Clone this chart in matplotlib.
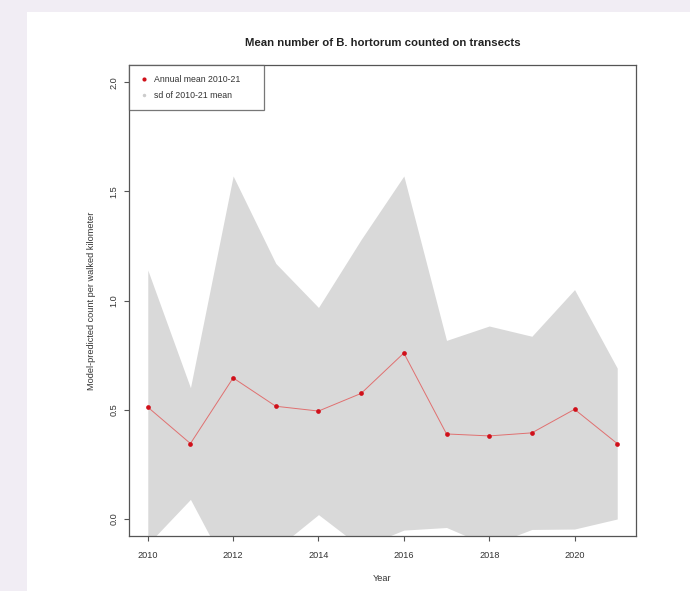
import matplotlib
matplotlib.use("Agg")
import matplotlib.pyplot as plt
import numpy as np
from matplotlib.patches import Rectangle
from matplotlib.lines import Line2D

plt.rcParams['font.family'] = ['Liberation Sans', 'DejaVu Sans']

# annual means and their standard deviation
years = [2010, 2011, 2012, 2013, 2014, 2015, 2016, 2017, 2018, 2019, 2020, 2021]
annual_mean = [0.511, 0.344, 0.645, 0.515, 0.493, 0.574, 0.759, 0.388, 0.379, 0.393, 0.501, 0.344]
mean_sd = [0.629, 0.256, 0.926, 0.655, 0.475, 0.706, 0.812, 0.429, 0.504, 0.443, 0.549, 0.346]

x_ticks = [2010, 2012, 2014, 2016, 2018, 2020]
y_ticks = [0.0, 0.5, 1.0, 1.5, 2.0]

fig = plt.figure(figsize=(6.9, 5.91), dpi=100)
fig.patch.set_facecolor('#f1edf4')
# white page area
fig.add_artist(Rectangle((27 / 690, 0), 1 - 27 / 690, 1 - 12 / 591,
                         transform=fig.transFigure, facecolor='white',
                         edgecolor='none', zorder=0))

ax = fig.add_axes([129 / 690, 1 - 536 / 591, (636 - 129) / 690, (536 - 65) / 591])
ax.set_facecolor('white')

x = np.array(years)
m = np.array(annual_mean)
sd = np.array(mean_sd)

ax.fill_between(x, m - sd, m + sd, color='#d9d9d9', linewidth=0, zorder=1)
ax.plot(x, m, color='#e07070', lw=0.7, zorder=2)
ax.plot(x, m, 'o', color='#d0101a', ms=3.4, markeredgewidth=0, zorder=3)

ax.set_xlim(2009.56, 2021.44)
ax.set_ylim(-0.08, 2.08)
ax.set_xticks(x_ticks)
ax.set_yticks(y_ticks)
ax.set_xticklabels([str(t) for t in x_ticks])
ax.set_yticklabels([f'{t:.1f}' for t in y_ticks], rotation=90, va='center')

for s in ax.spines.values():
    s.set_color('#555555')
    s.set_linewidth(0.9)
ax.tick_params(axis='both', colors='#555555', labelcolor='#333333',
               labelsize=6.6, length=3.6, width=0.8)
ax.tick_params(axis='x', pad=7)
ax.tick_params(axis='y', pad=4)

ax.set_title('Mean number of B. hortorum counted on transects',
             fontsize=8.2, fontweight='bold', color='#222222', pad=13.5)
ax.set_xlabel('Year', fontsize=6.6, color='#333333')
ax.set_ylabel('Model-predicted count per walked kilometer', fontsize=6.6, color='#333333')
ax.xaxis.set_label_coords(0.5, -0.08)
ax.yaxis.set_label_coords(-0.066, 0.5)

handles = [
    Line2D([], [], ls='none', marker='o', color='#d0101a', ms=3, markeredgewidth=0),
    Line2D([], [], ls='none', marker='o', color='#cccccc', ms=2.5, markeredgewidth=0),
]
leg = ax.legend(handles, ['Annual mean 2010-21      ', 'sd of 2010-21 mean'],
                loc='upper left', bbox_to_anchor=(0, 1), fontsize=6.3,
                frameon=True, fancybox=False, borderaxespad=0,
                handlelength=1.2, handletextpad=0.5, borderpad=1.1,
                labelspacing=0.9)
leg.get_frame().set_edgecolor('#555555')
leg.get_frame().set_linewidth(0.9)
for t in leg.get_texts():
    t.set_color('#333333')

fig.savefig('out.png', dpi=100, facecolor=fig.get_facecolor())
